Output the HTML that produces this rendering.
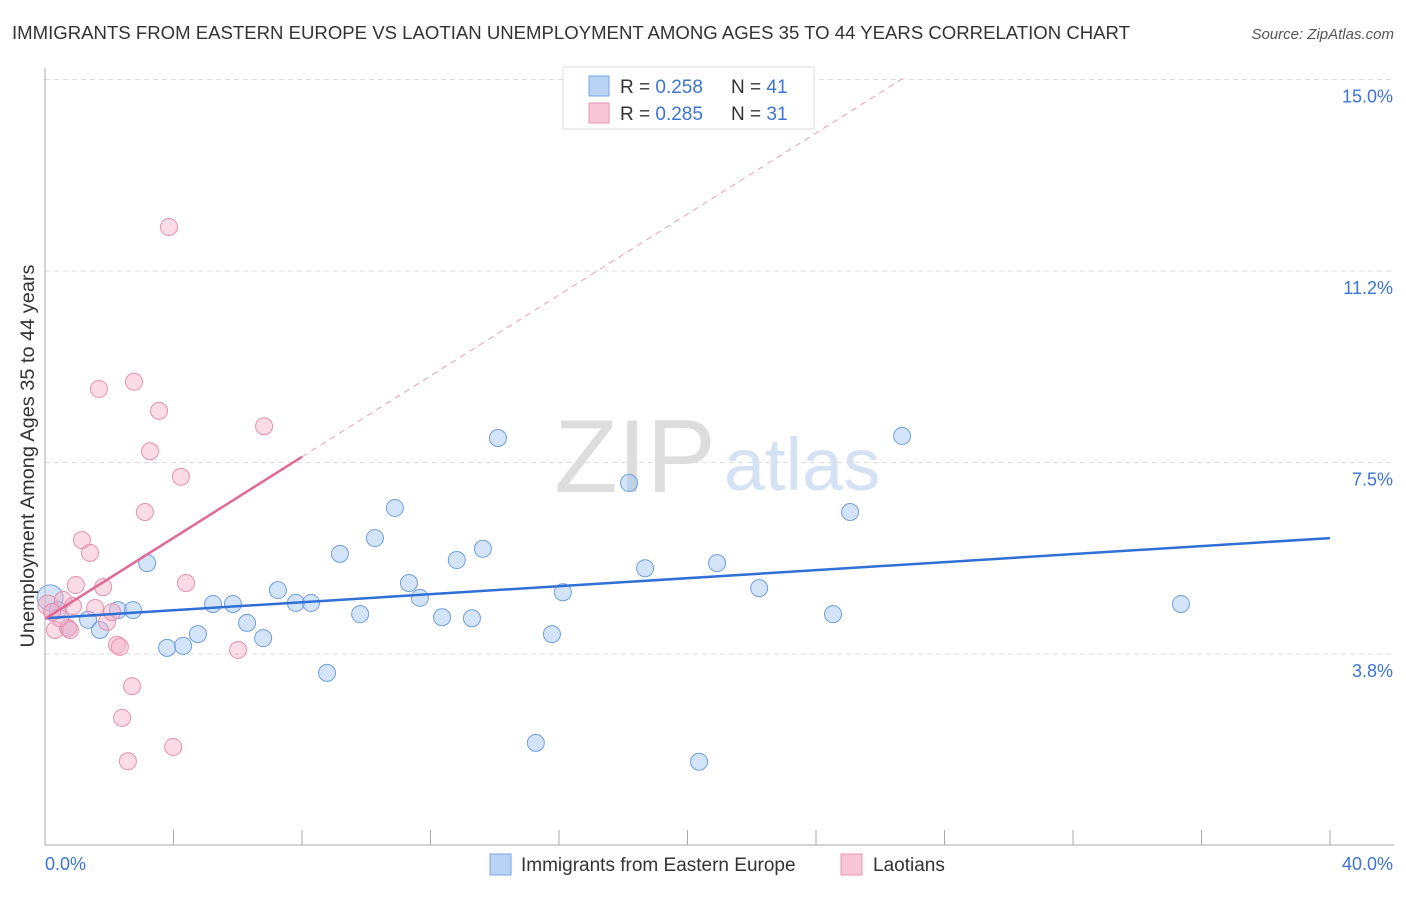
<!DOCTYPE html>
<html><head><meta charset="utf-8"><style>
body{margin:0;background:#fff;font-family:"Liberation Sans",sans-serif;}
svg text{font-family:"Liberation Sans",sans-serif;}
</style></head><body>
<svg id="chart" width="1406" height="892" viewBox="0 0 1406 892">
<text x="12" y="39" font-size="18" fill="#333" textLength="1118" lengthAdjust="spacingAndGlyphs">IMMIGRANTS FROM EASTERN EUROPE VS LAOTIAN UNEMPLOYMENT AMONG AGES 35 TO 44 YEARS CORRELATION CHART</text>
<text x="1394" y="39" font-size="15" fill="#555" font-style="italic" text-anchor="end">Source: ZipAtlas.com</text>
<g>
<text x="635" y="492" font-size="104" fill="#ddd" font-family="Liberation Serif" text-anchor="middle">ZIP</text>
<text x="802" y="490" font-size="74" fill="#d4e2f4" text-anchor="middle">atlas</text>
</g>
<g id="grid"></g>
<g id="axes"></g>
<g id="lines"></g>
<g id="dots"></g>
<text transform="translate(34,456) rotate(-90)" font-size="19" fill="#333" text-anchor="middle" textLength="383" lengthAdjust="spacingAndGlyphs">Unemployment Among Ages 35 to 44 years</text>
<g>
<rect x="563" y="67" width="251" height="62" fill="#fff" stroke="#ddd"/>
<rect x="589" y="76" width="20" height="20" fill="#b8d3f4" stroke="#7aa6e0"/>
<text x="620" y="93" font-size="19" fill="#333">R = <tspan fill="#3d74d0">0.258</tspan></text>
<text x="731" y="93" font-size="19" fill="#333">N = <tspan fill="#3d74d0">41</tspan></text>
<rect x="589" y="103" width="20" height="20" fill="#f8c6d6" stroke="#e896b2"/>
<text x="620" y="120" font-size="19" fill="#333">R = <tspan fill="#3d74d0">0.285</tspan></text>
<text x="731" y="120" font-size="19" fill="#333">N = <tspan fill="#3d74d0">31</tspan></text>
</g>
<g>
<rect x="490" y="854" width="21" height="21" fill="#b8d3f4" stroke="#7aa6e0"/>
<text x="521" y="871" font-size="19" fill="#333">Immigrants from Eastern Europe</text>
<rect x="841" y="854" width="21" height="21" fill="#f8c6d6" stroke="#e896b2"/>
<text x="873" y="871" font-size="19" fill="#333">Laotians</text>
</g>
</svg>
<script>
const yTicks=[3.75,7.5,11.25,15.0];
const yTickLabels=["3.8%","7.5%","11.2%","15.0%"];
const xTickLabels=["0.0%","40.0%"];
const blueX=[0.16,0.40,0.72,1.34,1.71,2.27,2.74,3.18,3.80,4.30,4.76,5.23,5.85,6.29,6.79,7.25,7.81,8.28,8.78,9.18,9.81,10.27,10.89,11.33,11.67,12.36,12.82,13.29,13.63,14.10,15.28,15.78,16.12,18.18,18.68,20.36,20.92,22.23,24.53,25.06,26.68,35.36];
const blueY=[4.85,4.61,4.26,4.42,4.22,4.61,4.61,5.53,3.87,3.91,4.14,4.73,4.73,4.36,4.06,5.00,4.75,4.75,3.38,5.71,4.53,6.02,6.61,5.14,4.85,4.47,5.59,4.45,5.81,7.98,2.01,4.14,4.96,7.10,5.43,1.64,5.53,5.04,4.53,6.53,8.02,4.73];
const pinkX=[0.09,0.31,0.56,0.72,0.87,0.96,1.15,1.40,1.56,1.68,1.81,1.93,2.09,2.24,2.33,2.40,2.58,2.71,2.77,3.11,3.27,3.55,3.86,3.99,4.23,4.39,6.01,6.82,0.47,0.78,0.22];
const pinkY=[4.71,4.22,4.81,4.26,4.69,5.10,5.98,5.73,4.65,8.94,5.06,4.38,4.57,3.93,3.89,2.50,1.65,3.12,9.08,6.53,7.72,8.51,12.11,1.93,7.22,5.14,3.83,8.21,4.45,4.22,4.57];
const blueTrend=[4.45,6.02];
const pinkTrend=[4.44,7.61];
const NS="http://www.w3.org/2000/svg";
const X=v=>45+v*32.125, Y=v=>654-(v-3.75)*51.07;
function mk(p,t,a){const e=document.createElementNS(NS,t);for(const k in a)e.setAttribute(k,a[k]);document.getElementById(p).appendChild(e);return e;}
yTicks.forEach((v,i)=>{
 const l=mk('grid','line',{x1:45,x2:1394,y1:Y(v),y2:Y(v),stroke:'#ddd','stroke-dasharray':'5,4'});
 
 
 const t=mk('axes','text',{x:1393,y:Y(v)+23,'font-size':18,fill:'#3d74d0','text-anchor':'end'});t.textContent=yTickLabels[i];
 
 
});
mk('axes','line',{x1:45,x2:45,y1:68,y2:845,stroke:'#aaa'});
mk('axes','line',{x1:45,x2:1394,y1:845,y2:845,stroke:'#aaa'});
for(let i=0;i<=10;i++){const t=mk('axes','line',{x1:X(i*4),x2:X(i*4),y1:830,y2:845,stroke:'#aaa'});
 
 }
const xl0=mk('axes','text',{x:45,y:870,'font-size':18,fill:'#3d74d0'});xl0.textContent=xTickLabels[0];


const xl1=mk('axes','text',{x:1393,y:870,'font-size':18,fill:'#3d74d0','text-anchor':'end'});xl1.textContent=xTickLabels[1];


const slope=(pinkTrend[1]-pinkTrend[0])/8;
const xEnd=(15.05-pinkTrend[0])/slope;
const pd=mk('lines','line',{x1:X(8),y1:Y(pinkTrend[1]),x2:X(xEnd),y2:Y(15.05),stroke:'#e8a0b8','stroke-dasharray':'6,5','stroke-width':1});


blueX.forEach((x,i)=>{const r=i===0?13:8.5;const c=mk('dots','circle',{cx:X(x),cy:Y(blueY[i]),r:r,fill:'rgba(160,196,240,0.45)',stroke:'#6e9fdc','stroke-width':1});
 
 });
pinkX.forEach((x,i)=>{const r=i===0?10:8.5;const c=mk('dots','circle',{cx:X(x),cy:Y(pinkY[i]),r:r,fill:'rgba(245,176,200,0.45)',stroke:'#e890ae','stroke-width':1});
 
 });
const bl=mk('dots','line',{x1:X(0),y1:Y(blueTrend[0]),x2:X(40),y2:Y(blueTrend[1]),stroke:'#2f6fd6','stroke-width':2.5});


const pl=mk('dots','line',{x1:X(0),y1:Y(pinkTrend[0]),x2:X(8),y2:Y(pinkTrend[1]),stroke:'#e06a96','stroke-width':2.5});


</script>
</body></html>
